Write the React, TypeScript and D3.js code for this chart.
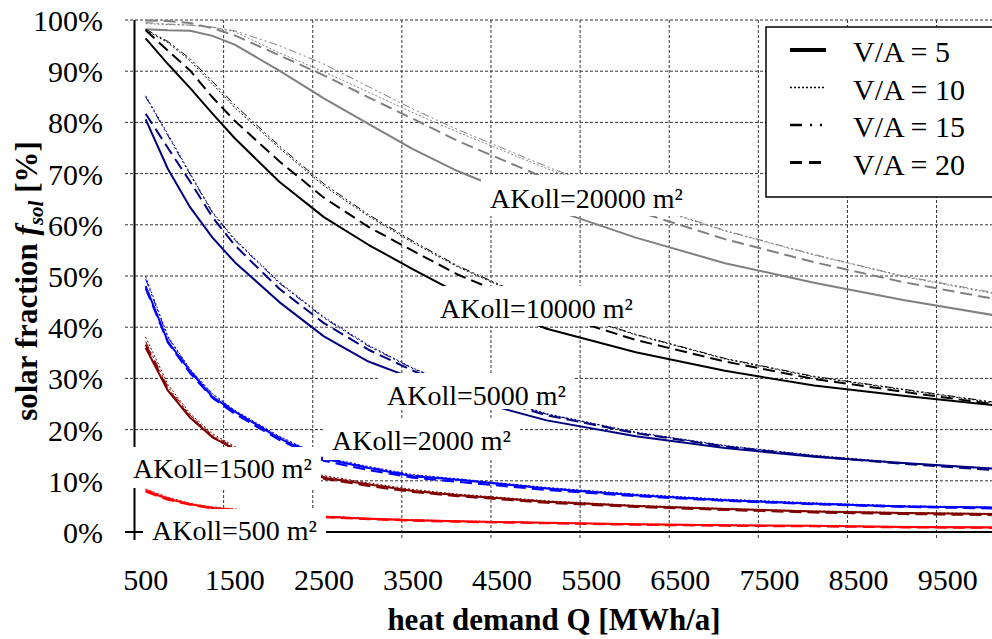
import { useEffect, useRef } from "react";
import * as d3 from "d3";

// heat demand Q [MWh/a] at which the curves were read
const demand = [500, 750, 1000, 1250, 1500, 2000, 2500, 3000, 3500, 4000, 5000, 6000, 7000, 8000, 9000, 10000];
const ratioLabels = ["V/A = 5", "V/A = 10", "V/A = 15", "V/A = 20"];
const xTicks = [500, 1500, 2500, 3500, 4500, 5500, 6500, 7500, 8500, 9500];
const yTicks = [0, 10, 20, 30, 40, 50, 60, 70, 80, 90, 100];

// solar fraction [%], one row per V/A (5, 10, 15, 20)
const koll20000 = [
  [98.2, 98.0, 97.9, 96.9, 95.2, 90.1, 84.7, 79.7, 74.8, 70.5, 63.4, 57.5, 52.5, 48.7, 45.3, 42.4],
  [99.3, 99.1, 99.0, 98.6, 97.7, 93.6, 89.9, 85.9, 81.9, 78.1, 71.0, 64.4, 58.8, 54.1, 49.9, 46.6],
  [99.5, 99.2, 99.0, 98.6, 97.9, 95.0, 91.4, 87.0, 82.6, 78.6, 71.4, 64.6, 58.9, 54.2, 50.0, 46.8],
  [99.9, 99.8, 99.4, 98.4, 97.0, 93.1, 89.2, 84.9, 80.7, 76.4, 69.0, 62.7, 57.2, 52.7, 48.8, 45.6],
];
const koll10000 = [
  [96.4, 91.4, 86.7, 81.7, 76.9, 68.4, 61.5, 56.1, 51.3, 46.7, 39.7, 35.1, 31.5, 28.6, 26.6, 24.8],
  [98.0, 95.6, 92.0, 87.5, 82.9, 75.0, 67.6, 61.7, 56.5, 51.8, 44.0, 38.5, 33.8, 30.3, 27.8, 25.3],
  [98.2, 95.8, 92.4, 88.0, 83.4, 75.4, 68.0, 62.0, 56.8, 52.0, 44.2, 38.6, 33.9, 30.4, 27.9, 25.4],
  [98.0, 94.0, 90.1, 84.9, 80.3, 72.4, 65.3, 59.6, 54.9, 50.3, 43.0, 37.5, 33.3, 29.9, 27.4, 25.0],
];
const koll5000 = [
  [80.6, 70.9, 63.4, 57.5, 52.7, 44.9, 38.2, 33.3, 30.0, 26.5, 21.8, 18.7, 16.4, 14.7, 13.5, 12.4],
  [85.2, 77.7, 70.0, 62.5, 57.2, 48.8, 42.0, 36.5, 32.0, 28.5, 23.1, 19.5, 16.9, 15.0, 13.5, 12.4],
  [85.0, 77.4, 69.8, 62.3, 57.0, 48.6, 41.8, 36.3, 31.9, 28.4, 23.0, 19.4, 16.8, 14.9, 13.4, 12.3],
  [81.7, 75.0, 68.4, 61.5, 56.0, 47.5, 40.8, 35.6, 31.5, 28.0, 22.8, 19.3, 16.7, 14.8, 13.3, 12.1],
];
const koll2000 = [
  [48.0, 37.2, 31.4, 26.4, 23.5, 18.3, 14.3, 12.5, 10.9, 10.2, 8.5, 7.2, 6.2, 5.5, 5.0, 4.8],
  [49.9, 38.2, 31.8, 27.0, 23.8, 18.7, 14.6, 12.8, 11.2, 10.4, 8.7, 7.4, 6.4, 5.7, 5.1, 4.9],
  [49.4, 38.0, 31.6, 26.9, 23.6, 18.6, 14.5, 12.7, 11.1, 10.3, 8.6, 7.3, 6.3, 5.6, 5.1, 4.8],
  [47.6, 37.0, 31.0, 26.2, 23.1, 18.0, 13.9, 12.1, 10.6, 9.8, 8.2, 7.0, 6.1, 5.4, 4.9, 4.6],
];
const koll1500 = [
  [36.0, 27.6, 22.3, 18.5, 16.2, 13.2, 10.6, 9.3, 8.0, 7.2, 5.9, 5.1, 4.5, 4.0, 3.7, 3.5],
  [38.1, 28.8, 23.1, 19.2, 16.7, 13.6, 11.0, 9.6, 8.3, 7.4, 6.1, 5.2, 4.6, 4.1, 3.8, 3.6],
  [37.2, 28.3, 22.8, 18.9, 16.5, 13.4, 10.8, 9.4, 8.1, 7.3, 6.0, 5.1, 4.5, 4.0, 3.7, 3.5],
  [36.6, 27.8, 22.4, 18.6, 16.1, 13.0, 10.4, 9.0, 7.8, 7.0, 5.7, 4.9, 4.3, 3.8, 3.5, 3.3],
];
const koll500 = [
  [8.0, 6.5, 5.4, 4.7, 4.3, 3.6, 3.0, 2.6, 2.3, 2.1, 1.8, 1.5, 1.3, 1.2, 1.0, 0.9],
  [8.4, 6.8, 5.6, 4.9, 4.5, 3.7, 3.1, 2.7, 2.4, 2.2, 1.8, 1.6, 1.4, 1.2, 1.1, 1.0],
  [8.3, 6.7, 5.5, 4.8, 4.4, 3.7, 3.1, 2.7, 2.4, 2.1, 1.8, 1.5, 1.3, 1.2, 1.0, 0.9],
  [7.9, 6.3, 5.3, 4.6, 4.2, 3.5, 2.9, 2.5, 2.2, 2.0, 1.7, 1.4, 1.2, 1.1, 0.9, 0.8],
];

const groupNames = ["AKoll=20000 m²", "AKoll=10000 m²", "AKoll=5000 m²", "AKoll=2000 m²", "AKoll=1500 m²", "AKoll=500 m²"];
const groupValues = [koll20000, koll10000, koll5000, koll2000, koll1500, koll500];

// styles / layout
const groupColors = ["#808080", "#000000", "#000080", "#0000ff", "#800000", "#ff0000"];
const lineDash = [null, "2,2", "8,3,2,3,2,3", "12,6"];
const lineWidth = [2, 1, 1, 2];
const legendDash = [null, "2,2", "12,8,2,8,2,8", "12,7"];
const legendWidth = [4, 1.5, 2.5, 3];
// [text x, baseline, box top, box bottom]
const labelSpots = [
  [490, 208, 175, 216],
  [440, 318, 286, 326],
  [387, 405, 373, 409],
  [332, 450, 420, 460],
  [133, 478, 447, 488],
  [152, 540, 509, 550],
];

const FONT = "'Liberation Serif', 'Times New Roman', serif";

export default function App() {
  const svgRef = useRef<SVGSVGElement>(null);

  useEffect(() => {
    const width = 992;
    const height = 639;
    const svg = d3.select(svgRef.current).attr("width", width).attr("height", height);
    svg.selectAll("*").remove();

    const x = d3.scaleLinear().domain([375, 10125]).range([134.5, 1003.4]);
    const y = d3.scaleLinear().domain([0, 100]).range([532, 20]);

    // grid
    const grid = svg.append("g").attr("stroke", "#333").attr("stroke-width", 1).attr("stroke-dasharray", "3,2");
    yTicks
      .filter((t) => t > 0)
      .forEach((t) => {
        grid.append("line").attr("x1", 125).attr("x2", width).attr("y1", y(t)).attr("y2", y(t));
      });
    xTicks.slice(1).forEach((t) => {
      const gx = x(t - 125);
      grid.append("line").attr("x1", gx).attr("x2", gx).attr("y1", y(100)).attr("y2", 540);
    });

    // axes
    svg.append("line").attr("x1", 125).attr("x2", width).attr("y1", y(0)).attr("y2", y(0)).attr("stroke", "#000").attr("stroke-width", 2);
    svg.append("line").attr("x1", x(375)).attr("x2", x(375)).attr("y1", y(100)).attr("y2", 540).attr("stroke", "#000").attr("stroke-width", 2);

    // curves
    const line = d3
      .line<number>()
      .x((_, i) => x(demand[i]))
      .y((d) => y(d));
    const curves = svg.append("g").attr("fill", "none");
    groupValues.forEach((rows, gi) => {
      rows.forEach((vals, ri) => {
        curves
          .append("path")
          .attr("d", line(vals))
          .attr("stroke", groupColors[gi])
          .attr("stroke-width", lineWidth[ri])
          .attr("stroke-dasharray", lineDash[ri])
          .attr("stroke-linejoin", "round");
      });
    });

    // data labels with white boxes
    const boxes = svg.append("g");
    const texts = svg.append("g").attr("font-family", FONT).attr("font-size", 28).attr("fill", "#000");
    groupNames.forEach((name, i) => {
      const [tx, tb, top, bottom] = labelSpots[i];
      const t = texts.append("text").attr("x", tx).attr("y", tb).text(name);
      const bb = (t.node() as SVGTextElement).getBBox();
      boxes
        .append("rect")
        .attr("x", bb.x - 9)
        .attr("width", bb.width + 18)
        .attr("y", top)
        .attr("height", bottom - top)
        .attr("fill", "#fff");
    });

    // tick labels
    const ticks = svg.append("g").attr("font-family", FONT).attr("font-size", 30).attr("fill", "#000");
    yTicks.forEach((t) => {
      ticks.append("text").attr("x", 103).attr("y", y(t) + 11).attr("text-anchor", "end").text(`${t}%`);
    });
    xTicks.forEach((t) => {
      ticks.append("text").attr("x", x(t)).attr("y", 590).attr("text-anchor", "middle").text(t);
    });

    // axis titles
    svg
      .append("text")
      .attr("x", 554)
      .attr("y", 630)
      .attr("text-anchor", "middle")
      .attr("font-family", FONT)
      .attr("font-size", 31)
      .attr("font-weight", "bold")
      .text("heat demand Q [MWh/a]");

    const yt = svg
      .append("text")
      .attr("transform", "translate(37,281) rotate(-90)")
      .attr("text-anchor", "middle")
      .attr("font-family", FONT)
      .attr("font-size", 31)
      .attr("font-weight", "bold");
    yt.append("tspan").text("solar fraction ");
    yt.append("tspan").attr("font-style", "italic").text("f");
    yt.append("tspan").attr("font-style", "italic").attr("font-size", 21).attr("dy", 6).text("sol");
    yt.append("tspan").attr("dy", -6).text(" [%]");

    // legend
    const lg = svg.append("g");
    lg.append("rect").attr("x", 766).attr("y", 27).attr("width", 240).attr("height", 170).attr("fill", "#fff").attr("stroke", "#000").attr("stroke-width", 1.5);
    ratioLabels.forEach((lab, i) => {
      const cy = 50 + i * 37.5;
      lg.append("line")
        .attr("x1", 790)
        .attr("x2", 826)
        .attr("y1", cy)
        .attr("y2", cy)
        .attr("stroke", "#000")
        .attr("stroke-width", legendWidth[i])
        .attr("stroke-dasharray", legendDash[i]);
      lg.append("text").attr("x", 853).attr("y", cy + 12).attr("font-family", FONT).attr("font-size", 30).text(lab);
    });
  }, []);

  return <svg ref={svgRef} style={{ position: "absolute", left: 0, top: 0, background: "#fff" }}></svg>;
}
